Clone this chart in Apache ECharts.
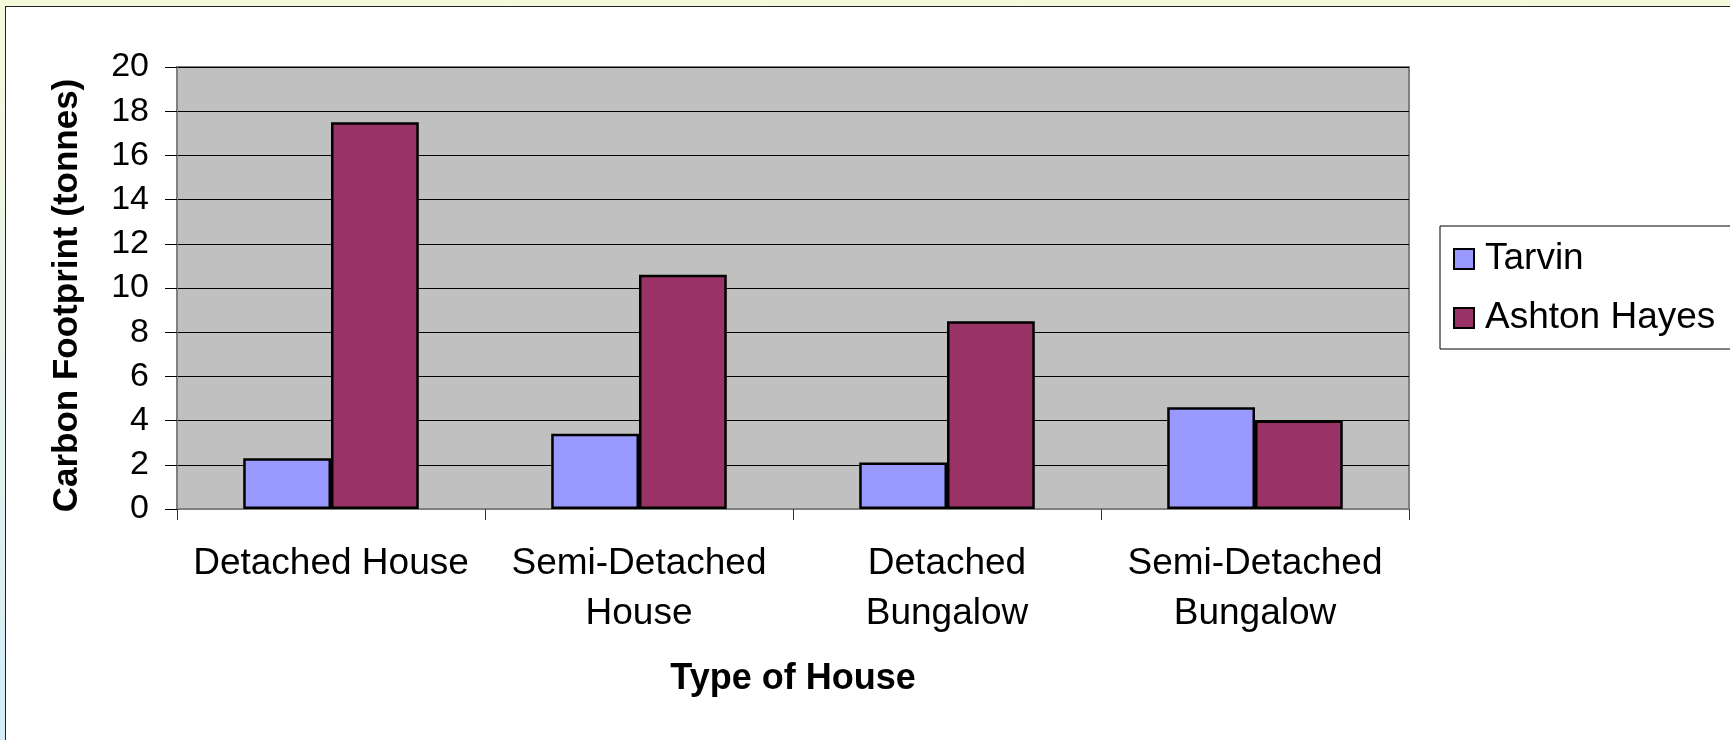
<!DOCTYPE html>
<html>
<head>
<meta charset="utf-8">
<script src="https://cdn.jsdelivr.net/npm/echarts@6/dist/echarts.min.js"></script>
<style>
  html, body {
    margin: 0;
    padding: 0;
    width: 1730px;
    height: 740px;
    overflow: hidden;
    background: linear-gradient(to bottom, #f6f9dc, #d4ecf8);
  }
  /* white sheet with the dark frame on top and left */
  .sheet {
    position: absolute;
    left: 5px;
    top: 6px;
    width: 1730px;
    height: 740px;
    background: #fff;
    border-left: 1px solid #222;
    border-top: 1px solid #222;
  }
  #chart {
    position: absolute;
    left: 0;
    top: 0;
    width: 1730px;
    height: 740px;
  }
</style>
</head>
<body>
<div class="sheet"></div>
<div id="chart"></div>
<script>
// categories
const houseTypes = [
  "Detached House",
  "Semi-Detached\nHouse",
  "Detached\nBungalow",
  "Semi-Detached\nBungalow"
];
// carbon footprint (tonnes)
const tarvin = [2.3, 3.4, 2.1, 4.6];
const ashtonHayes = [17.5, 10.6, 8.5, 4.0];
// y axis
const yMin = 0;
const yMax = 20;
const yStep = 2;

const font = "'Liberation Sans', Arial, sans-serif";

const chart = echarts.init(document.getElementById("chart"));
const option = {
  animation: false,
  backgroundColor: "transparent",
  textStyle: { fontFamily: font, color: "#000" },
  grid: {
    left: 177,
    top: 67,
    right: 321,
    bottom: 231,
    show: true,
    backgroundColor: "#c0c0c0",
    borderColor: "#808080",
    borderWidth: 2
  },
  legend: {
    orient: "vertical",
    left: 1440,
    top: 226,
    padding: [13, 20, 11, 13],
    itemGap: 19,
    itemWidth: 20,
    itemHeight: 20,
    icon: "rect",
    backgroundColor: "#fff",
    borderColor: "#000",
    borderWidth: 1,
    borderRadius: 0,
    textStyle: { fontFamily: font, fontSize: 37, color: "#000", lineHeight: 40, padding: [0, 0, 0, 6] },
    data: ["Tarvin", "Ashton Hayes"]
  },
  xAxis: {
    type: "category",
    data: houseTypes,
    name: "Type of House",
    nameLocation: "middle",
    nameGap: 152,
    nameTextStyle: { fontFamily: font, fontSize: 36, fontWeight: "bold", color: "#000" },
    axisLine: { lineStyle: { color: "#808080", width: 2 } },
    axisTick: { show: true, length: 11, lineStyle: { color: "#333", width: 1 } },
    axisLabel: {
      fontFamily: font,
      fontSize: 37,
      lineHeight: 50,
      color: "#000",
      margin: 30,
      interval: 0
    }
  },
  yAxis: {
    type: "value",
    min: yMin,
    max: yMax,
    interval: yStep,
    name: "Carbon Footprint (tonnes)",
    nameLocation: "middle",
    nameRotate: 90,
    nameGap: 92,
    nameTextStyle: {
      fontFamily: font,
      fontSize: 35,
      fontWeight: "bold",
      color: "#000",
      padding: [0, 15, 0, 0]
    },
    axisLine: { show: true, lineStyle: { color: "#808080", width: 2 } },
    axisTick: { show: true, length: 12, lineStyle: { color: "#000", width: 1 } },
    axisLabel: { fontFamily: font, fontSize: 34, color: "#000", margin: 28 },
    splitLine: { show: true, lineStyle: { color: "#000", width: 1 } }
  },
  series: [
    {
      name: "Tarvin",
      type: "bar",
      data: tarvin,
      barGap: "0%",
      barCategoryGap: "43%",
      itemStyle: { color: "#9999ff", borderColor: "#000", borderWidth: 2.5 }
    },
    {
      name: "Ashton Hayes",
      type: "bar",
      data: ashtonHayes,
      barGap: "0%",
      barCategoryGap: "43%",
      itemStyle: { color: "#993366", borderColor: "#000", borderWidth: 2.5 }
    }
  ]
};
chart.setOption(option);
</script>
</body>
</html>
